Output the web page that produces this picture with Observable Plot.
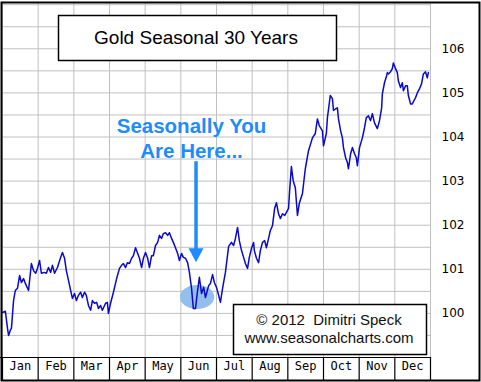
<!DOCTYPE html>
<html>
<head>
<meta charset="utf-8">
<script src="https://cdn.jsdelivr.net/npm/d3@7"></script>
<script src="https://cdn.jsdelivr.net/npm/@observablehq/plot@0.6"></script>
<style>
  html, body { margin: 0; padding: 0; background: #fff; }
  svg { display: block; }
</style>
</head>
<body>
<div id="chart"></div>
<script>
// ---- Data ----
const months = ["Jan","Feb","Mar","Apr","May","Jun","Jul","Aug","Sep","Oct","Nov","Dec"];
const monthEdges = [0,1,2,3,4,5,6,7,8,9,10,11,12];
const yTickValues = [100,101,102,103,104,105,106];
const gridYValues = [99,99.5,100,100.5,101,101.5,102,102.5,103,103.5,104,104.5,105,105.5,106,106.5,107];

// position within the year in months (0 = 1 Jan, 12 = 31 Dec)
const monthPos = [
  0.00,0.08,0.14,0.17,0.22,0.25,0.31,0.36,0.42,0.48,
  0.53,0.59,0.64,0.73,0.81,0.87,0.93,0.98,1.04,1.09,
  1.18,1.23,1.29,1.35,1.40,1.46,1.54,1.63,1.68,1.74,
  1.79,1.85,1.91,1.96,2.02,2.07,2.13,2.19,2.24,2.30,
  2.35,2.41,2.47,2.52,2.58,2.64,2.69,2.75,2.80,2.89,
  2.94,2.97,3.03,3.11,3.20,3.28,3.34,3.39,3.45,3.50,
  3.56,3.62,3.67,3.73,3.78,3.84,3.90,3.95,4.01,4.07,
  4.12,4.18,4.23,4.29,4.35,4.40,4.46,4.51,4.57,4.63,
  4.68,4.74,4.79,4.85,4.91,4.96,5.02,5.07,5.13,5.19,
  5.24,5.30,5.35,5.41,5.47,5.52,5.58,5.64,5.69,5.78,
  5.83,5.89,5.94,6.00,6.06,6.11,6.17,6.25,6.34,6.42,
  6.48,6.53,6.59,6.64,6.70,6.76,6.81,6.87,6.92,6.98,
  7.04,7.06,7.12,7.18,7.23,7.29,7.35,7.40,7.46,7.51,
  7.57,7.63,7.68,7.74,7.79,7.85,7.91,7.96,8.02,8.05,
  8.10,8.15,8.21,8.27,8.32,8.41,8.49,8.58,8.69,8.77,
  8.83,8.88,8.97,9.00,9.08,9.11,9.19,9.25,9.28,9.34,
  9.39,9.42,9.48,9.53,9.56,9.62,9.67,9.70,9.76,9.81,
  9.87,9.92,9.95,10.01,10.09,10.15,10.20,10.26,10.32,10.37,
  10.43,10.51,10.57,10.63,10.65,10.71,10.77,10.79,10.82,10.88,
  10.93,10.96,11.02,11.07,11.10,11.16,11.21,11.24,11.30,11.35,
  11.38,11.44,11.49,11.58,11.63,11.69,11.75,11.80,11.86,11.91,
  11.94
];

// seasonal gold index (start of year = 100)
const goldValue = [
  100.02,100.05,99.66,99.50,99.62,99.66,100.29,100.52,100.57,100.86,
  100.70,100.79,100.68,100.52,101.13,100.97,100.91,101.02,101.20,100.91,
  100.93,100.91,101.04,100.93,101.09,100.91,101.04,101.27,101.38,101.25,
  100.97,100.75,100.52,100.34,100.45,100.29,100.41,100.48,100.36,100.48,
  100.41,100.18,100.07,100.29,100.23,100.25,100.11,100.18,100.07,100.23,
  100.25,100.00,100.23,100.48,100.79,101.02,101.09,101.13,101.04,101.15,
  101.13,101.25,101.31,101.49,101.38,101.25,101.04,101.25,101.38,101.25,
  101.04,101.31,101.31,101.54,101.61,101.77,101.70,101.81,101.83,101.77,
  101.83,101.70,101.61,101.49,101.36,101.20,101.36,101.27,101.25,101.15,
  100.93,100.57,100.11,100.11,100.52,100.82,100.45,100.59,100.36,100.63,
  100.68,100.88,100.70,100.59,100.41,100.25,100.57,100.93,101.52,101.61,
  101.54,101.70,101.95,101.65,101.43,101.27,101.13,101.02,101.27,101.47,
  101.61,101.43,101.25,101.15,101.43,101.61,101.65,101.49,101.70,101.88,
  101.99,102.38,102.51,102.26,102.15,102.26,102.22,102.29,102.38,102.78,
  103.33,103.01,102.85,102.22,102.49,102.72,103.28,103.69,103.98,104.08,
  104.41,104.26,104.14,103.80,104.08,104.44,104.94,104.87,104.60,104.64,
  104.66,104.41,104.14,103.98,103.76,103.53,103.42,103.28,103.62,103.76,
  103.62,103.53,103.35,103.76,103.98,104.21,104.44,104.48,104.37,104.53,
  104.32,104.19,104.37,104.66,104.98,105.23,105.39,105.46,105.43,105.48,
  105.55,105.68,105.55,105.46,105.27,105.12,105.23,105.05,105.16,105.16,
  104.94,104.75,104.75,104.89,105.00,105.09,105.21,105.43,105.48,105.34,
  105.46
];

const titleText = "Gold Seasonal 30 Years";
const creditLines = ["\u00a9 2012\u00a0\u00a0Dimitri Speck", "www.seasonalcharts.com"];
const annotationText = ["Seasonally You\nAre Here..."];
// annotation anchors in data space (month position, index value)
const annotationAt = [{x: 5.30, y: 103.53}];
const arrowAt = [{x: 5.44, y1: 103.44, y2: 101.15}];
const highlightAt = [{x: 5.47, y: 100.36, rx: 0.48, ry: 0.27}];

// ---- Chart ----
const series = monthPos.map((t, i) => ({t, v: goldValue[i]}));
const FONT_SANS = "'Liberation Sans', Arial, sans-serif";
const BLUE = "#1e8cff";

const plot = Plot.plot({
  width: 481,
  height: 382,
  marginTop: 2,
  marginRight: 51,
  marginBottom: 25,
  marginLeft: 2,
  style: {background: "#fff", color: "#000", fontFamily: "'DejaVu Sans', sans-serif", fontSize: "12px"},
  x: {domain: [0, 12], axis: null},
  y: {domain: [99, 107.05], axis: null},
  marks: [
    Plot.gridX(monthEdges, {stroke: "#c0c0c0", strokeOpacity: 1}),
    Plot.gridY(gridYValues, {stroke: "#c0c0c0", strokeOpacity: 1}),
    Plot.axisY(yTickValues, {
      anchor: "right", tickSize: 0, tickPadding: 11, label: null,
      tickFormat: d => String(d), fontSize: 12, fill: "#000"
    }),
    // month cells along the bottom
    Plot.ruleY([99], {stroke: "#000", strokeWidth: 1.2, insetLeft: -2}),
    Plot.ruleX(monthEdges, {stroke: "#000", strokeWidth: 1.2, insetTop: 355, insetBottom: -24}),
    Plot.text(months, {
      x: (d, i) => i + 0.5, text: d => d, frameAnchor: "bottom", dy: 12.5,
      fontFamily: "'DejaVu Sans Mono', monospace", fontSize: 12, fill: "#000"
    }),
    Plot.line(series, {x: "t", y: "v", stroke: "#0a0ac8", strokeWidth: 1.5, curve: "linear"}),
    Plot.text(annotationText, {
      x: () => annotationAt[0].x, y: () => annotationAt[0].y, text: d => d,
      lineAnchor: "bottom", lineHeight: 1.2, fontSize: 20.5, fontWeight: "bold",
      fontFamily: FONT_SANS, fill: BLUE
    }),
    Plot.frame({stroke: "#000", strokeWidth: 2, insetLeft: -1, insetTop: 0, insetRight: -49, insetBottom: -23})
  ]
});

document.getElementById("chart").appendChild(plot);

// ---- Annotation shapes, placed through the plot's scales ----
const sx = plot.scale("x"), sy = plot.scale("y");
const NS = "http://www.w3.org/2000/svg";
const lineG = plot.querySelector('g[aria-label="line"]');

highlightAt.forEach(h => {
  const e = document.createElementNS(NS, "ellipse");
  const cx = sx.apply(h.x), cy = sy.apply(h.y);
  e.setAttribute("cx", cx);
  e.setAttribute("cy", cy);
  e.setAttribute("rx", Math.abs(sx.apply(h.x + h.rx) - cx));
  e.setAttribute("ry", Math.abs(sy.apply(h.y + h.ry) - cy));
  e.setAttribute("fill", "#93bfee");
  plot.insertBefore(e, lineG);
});

const root = d3.select(plot);
arrowAt.forEach(a => {
  const x = sx.apply(a.x), yTop = sy.apply(a.y1), yTip = sy.apply(a.y2);
  const headH = 14, headW = 7.5;
  root.append("line")
    .attr("x1", x).attr("x2", x).attr("y1", yTop).attr("y2", yTip - headH + 1)
    .attr("stroke", BLUE).attr("stroke-width", 3.5);
  root.append("polygon")
    .attr("points", `${x - headW},${yTip - headH} ${x + headW},${yTip - headH} ${x},${yTip}`)
    .attr("fill", BLUE);
});

// title box
const tg = root.append("g");
tg.append("rect").attr("x", 58.5).attr("y", 15.5).attr("width", 278).attr("height", 45)
  .attr("fill", "#fff").attr("stroke", "#000").attr("stroke-width", 1.5);
tg.append("text").attr("x", 196).attr("y", 43.5).attr("text-anchor", "middle")
  .attr("font-family", FONT_SANS).attr("font-size", 19).attr("fill", "#000").text(titleText);

// credit box
const cg = root.append("g");
cg.append("rect").attr("x", 233.5).attr("y", 304.5).attr("width", 193).attr("height", 50)
  .attr("fill", "#fff").attr("stroke", "#000").attr("stroke-width", 1.5);
creditLines.forEach((t, i) => {
  cg.append("text").attr("x", 329).attr("y", 325 + i * 17.5).attr("text-anchor", "middle")
    .attr("font-family", FONT_SANS).attr("font-size", 15).attr("fill", "#111").text(t);
});
</script>
</body>
</html>
